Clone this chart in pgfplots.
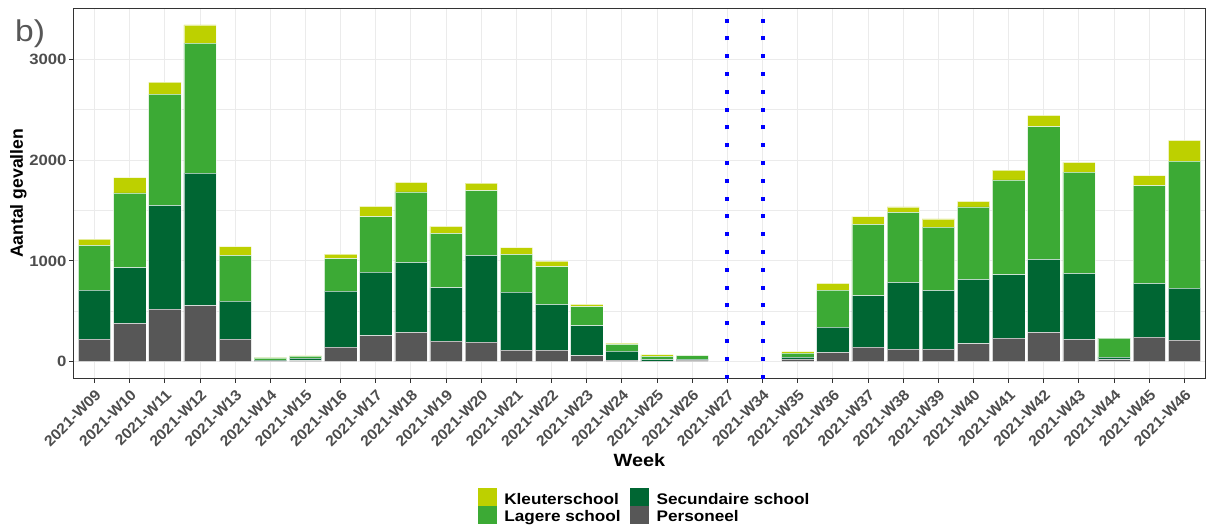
\documentclass[border=0pt]{standalone}
\usepackage{fontspec}
\setmainfont{Liberation Sans}[FakeStretch=1.12]
\newfontfamily\plainsans{Liberation Sans}
\newfontfamily\diagsans{Liberation Sans}[FakeStretch=1.06]
\usepackage{pgfplots}
\pgfplotsset{compat=1.18}
\usepackage{pgfplotstable}

\definecolor{kleuter}{HTML}{BDD000}
\definecolor{lagere}{HTML}{3CAA35}
\definecolor{secundair}{HTML}{006633}
\definecolor{personeel}{HTML}{575757}
\definecolor{gridgray}{HTML}{EBEBEB}
\definecolor{tickgray}{HTML}{4D4D4D}
\definecolor{framegray}{HTML}{333333}

% Weekly cases per group (stacked segments); weeks W27 and W34 have no cases
\pgfplotstableread{
x  pers sec  lag  kl
0  225  486  443  63
1  380  553  741  152
2  523  1028 1105 119
3  556  1316 1290 179
4  225  377  453  86
5  8    7    22   3
6  10   26   20   4
7  146  555  321  46
8  258  632  549  102
9  292  694  698  96
10 205  529  540  69
11 195  860  642  76
12 116  575  374  66
13 116  453  374  56
14 60   297  189  23
15 17   89   66   13
16 7    17   30   16
17 17   9    34   3
20 26   20   40   13
21 93   251  367  66
22 146  509  708  76
23 126  661  695  53
24 126  582  628  80
25 179  638  718  56
26 235  628  940  99
27 291  725  1316 113
28 222  655  1005 96
29 23   23   189  0
30 245  532  970  99
31 215  516  1260 205
}\weekdata

\pgfplotsset{
  seg/.style={fill=#1, draw=white, draw opacity=0.6, line width=0.4pt, forget plot},
  keyimg/.style={legend image code/.code={\fill[#1] (0pt,-6.2pt) rectangle (13.5pt,6.55pt);}},
}

\begin{document}
\begin{tikzpicture}
\begin{axis}[
  name=ax,
  scale only axis, width=849pt, height=277.8pt,
  xmin=-0.6, xmax=31.6, ymin=-167, ymax=3508,
  ybar stacked, bar width=0.92,
  xtick={0,...,31},
  xticklabels={2021-W09,2021-W10,2021-W11,2021-W12,2021-W13,2021-W14,2021-W15,2021-W16,
    2021-W17,2021-W18,2021-W19,2021-W20,2021-W21,2021-W22,2021-W23,2021-W24,2021-W25,
    2021-W26,2021-W27,2021-W34,2021-W35,2021-W36,2021-W37,2021-W38,2021-W39,2021-W40,
    2021-W41,2021-W42,2021-W43,2021-W44,2021-W45,2021-W46},
  ytick={0,1000,2000,3000}, minor ytick={500,1500,2500},
  scaled y ticks=false,
  /pgf/number format/1000 sep={},
  /pgf/number format/assume math mode=true,
  grid=both,
  major grid style={gridgray, line width=0.75pt},
  minor grid style={gridgray, line width=0.4pt},
  axis line style={framegray, line width=0.8pt},
  tick align=outside, xtick pos=bottom, ytick pos=left,
  major tick length=3pt, minor tick length=0pt,
  tick style={framegray, line width=0.75pt},
  tick label style={font=\fontsize{11.2}{13}\selectfont\bfseries, text=tickgray},
  x tick label style={font=\diagsans\fontsize{11.2}{13}\selectfont\bfseries,
    rotate=45, anchor=north east, inner sep=1pt, xshift=-2pt, yshift=-2pt},
  y tick label style={inner sep=2pt},
  xlabel={Week}, ylabel={Aantal gevallen},
  label style={font=\fontsize{13.3}{15}\selectfont\bfseries, text=black},
  xlabel style={at={(axis description cs:0.5,-0.2385)}, anchor=base},
  ylabel style={font=\plainsans\fontsize{13.2}{15}\selectfont\bfseries,
    at={(axis description cs:-0.0446,0.5)}, anchor=base},
  legend style={at={(axis description cs:0.3569,-0.2954)}, anchor=north west,
    draw=none, fill=none, inner sep=0pt, row sep=0pt,
    font=\fontsize{11.5}{13}\selectfont\bfseries,
    nodes={inner sep=0pt, text height=11.75pt, text depth=1.35pt},
    /tikz/every odd column/.append style={column sep=6pt},
    /tikz/every even column/.append style={column sep=7pt}},
  legend columns=2, legend cell align=left,
]
\addlegendimage{keyimg=kleuter}   \addlegendentry{Kleuterschool}
\addlegendimage{keyimg=secundair} \addlegendentry{Secundaire school}
\addlegendimage{keyimg=lagere}    \addlegendentry{Lagere school}
\addlegendimage{keyimg=personeel} \addlegendentry{Personeel}

\addplot[seg=personeel] table[x=x, y=pers] {\weekdata};
\addplot[seg=secundair] table[x=x, y=sec]  {\weekdata};
\addplot[seg=lagere]    table[x=x, y=lag]  {\weekdata};
\addplot[seg=kleuter]   table[x=x, y=kl]   {\weekdata};
\end{axis}

% dotted markers for the summer break (W27 and W34)
\begin{axis}[
  scale only axis, width=849pt, height=277.8pt,
  xmin=-0.6, xmax=31.6, ymin=-167, ymax=3508,
  hide axis,
]
\addplot[blue, line width=3pt, dash pattern=on 3pt off 10.35pt, line cap=butt]
  coordinates {(18,-167) (18,3508)};
\addplot[blue, line width=3pt, dash pattern=on 3pt off 10.35pt, line cap=butt]
  coordinates {(19,-167) (19,3508)};
\end{axis}

\node[anchor=base west, inner sep=0pt, text=personeel,
      font=\fontsize{22.5}{24}\selectfont]
  at ([shift={(-43.9pt,-25.2pt)}]ax.north west) {b)};

\pgfresetboundingbox
\path ([shift={(-55.1pt,-109.1pt)}]ax.south west) rectangle ([shift={(1.1pt,6.1pt)}]ax.north east);
\end{tikzpicture}
\end{document}
